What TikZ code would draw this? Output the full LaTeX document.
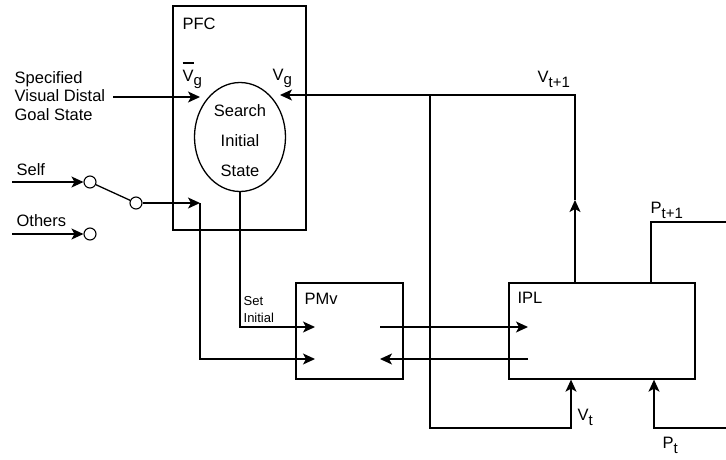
\documentclass[tikz,border=0pt]{standalone}
\usepackage{fontspec}
\setmainfont{Liberation Sans}
\usetikzlibrary{arrows.meta,shapes.geometric}
\newcommand\mysub[1]{\raisebox{-5pt}{\fontsize{15}{15}\selectfont #1}}
\begin{document}
\begin{tikzpicture}[x=1pt,y=-1pt,line width=1.3pt,
  >={Stealth[length=12pt,width=11pt,inset=3pt]},
  lbl/.style={anchor=base west,inner sep=0pt,font=\fontsize{16.5}{19}\selectfont},
  small/.style={anchor=base west,inner sep=0pt,font=\fontsize{13}{17}\selectfont},
  blk/.style={draw,inner sep=0pt},
  sw/.style={draw,circle,minimum size=12pt,inner sep=0pt,line width=1.1pt}]
\useasboundingbox (0,0) rectangle (726,459);
% blocks
\node[blk,minimum width=133pt,minimum height=224pt] (pfc) at (239.5,118) {};
\node[draw,ellipse,minimum width=91pt,minimum height=109pt,inner sep=0pt] (ell) at (240,137) {};
\node[blk,minimum width=107pt,minimum height=96pt] (pmv) at (349.5,331) {};
\node[blk,minimum width=186pt,minimum height=96pt] (ipl) at (602,331) {};
% ellipse text
\node[lbl,anchor=base] (s1) at (240,116) {Search};
\node[lbl,anchor=base] (s2) at (240,146) {Initial};
\node[lbl,anchor=base] (s3) at (240,176) {State};
% labels
\node[lbl] (tpfc) at (182,29) {PFC};
\node[lbl] (vgbar) at (182,81) {\setbox0\hbox{V}\rlap{\rule[17.5pt]{\wd0}{1.3pt}}V\raisebox{-4pt}{\fontsize{15}{15}\selectfont g}};
\node[lbl] (vg) at (272,80) {V\raisebox{-4pt}{\fontsize{15}{15}\selectfont g}};
\node[lbl] (spec1) at (14,83) {Specified};
\node[lbl] (spec2) at (14,101) {Visual Distal};
\node[lbl] (spec3) at (14,120) {Goal State};
\node[lbl] (tself) at (16,175) {Self};
\node[lbl] (tothers) at (16,226) {Others};
\node[lbl] (tpmv) at (304,304) {PMv};
\node[lbl] (tipl) at (517,303) {IPL};
\node[small] (set1) at (243,305) {Set};
\node[small] (set2) at (243,322) {Initial};
\node[lbl] (vt1) at (537,82) {V\mysub{t+1}};
\node[lbl] (pt1) at (650,213) {P\mysub{t+1}};
\node[lbl] (vt) at (577,420) {V\mysub{t}};
\node[lbl] (pt) at (662,448) {P\mysub{t}};
% switch
\node[sw] (cself) at (90,182) {};
\node[sw] (cmid) at (136,203) {};
\node[sw] (coth) at (90,234) {};
\coordinate (selfin) at (12,182);
\coordinate (othin) at (12,234);
\draw[->] (selfin) -- (cself.west);
\draw[->] (othin) -- (coth.west);
\draw (cself) -- (cmid);
\coordinate (swc) at (200,203);
\draw[->] (cmid.east) -- (swc);
\coordinate (pmvB) at (315,359);
\draw[->] (swc) |- (pmvB);
% specified goal
\coordinate (specout) at (113,97);
\coordinate (vgbarin) at (200,97);
\draw[->] (specout) -- (vgbarin);
% set initial
\coordinate (pmvA) at (315,327);
\draw[->] (ell.south) |- (pmvA);
% PMv <-> IPL
\coordinate (pmvout) at (380,327);
\coordinate (iplin) at (528,327);
\draw[->] (pmvout) -- (iplin);
\coordinate (iplout) at (528,359);
\coordinate (pmvin) at (380,359);
\draw[->] (iplout) -- (pmvin);
% V loop
\coordinate (vout) at (ipl.north -| 575,0);
\coordinate (vmid) at (575,200);
\coordinate (vtop) at (575,95);
\coordinate (jn) at (430,95);
\coordinate (vgin) at (280,95);
\draw[->] (vout) -- (vmid);
\draw (vmid) -- (vtop) -- (jn);
\draw[->] (jn) -- (vgin);
\coordinate (jb) at (430,428);
\coordinate (jc) at (571,428);
\coordinate (vtin) at (ipl.south -| 571,0);
\draw[->] (jn) -- (jb) -- (jc) -- (vtin);
% P loop
\coordinate (pout) at (ipl.north -| 651,0);
\coordinate (pend) at (726,222);
\draw (pout) |- (pend);
\coordinate (pstart) at (726,428);
\coordinate (pin) at (ipl.south -| 654,0);
\draw[->] (pstart) -| (pin);
\end{tikzpicture}
\end{document}
